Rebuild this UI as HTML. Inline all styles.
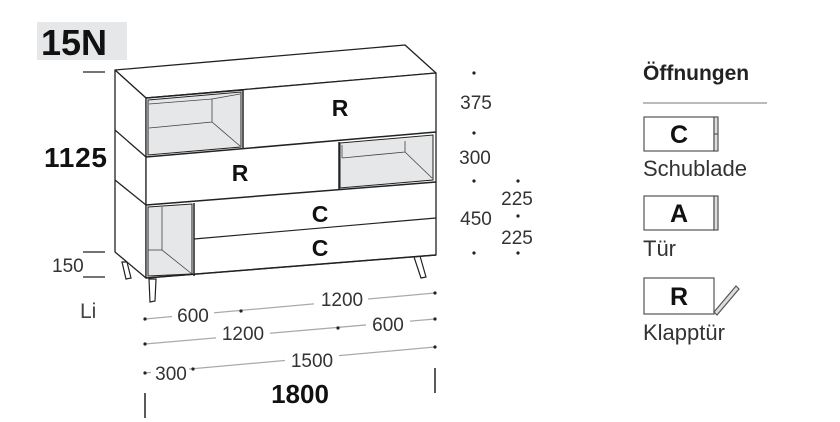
<!DOCTYPE html>
<html><head><meta charset="utf-8"><style>
html,body{margin:0;padding:0;background:#fff;}
svg{display:block;font-family:"Liberation Sans",sans-serif;}
</style></head><body>
<svg width="840" height="422" viewBox="0 0 840 422" xmlns="http://www.w3.org/2000/svg">
<rect x="37" y="22" width="90" height="38" fill="#e6e7e8"/>
<text x="41" y="55" font-size="36" font-weight="bold" fill="#111">15N</text>
<g stroke="#222" stroke-width="1.2">
<line x1="83" y1="72" x2="105" y2="72"/>
<line x1="83" y1="252" x2="105" y2="252"/>
<line x1="83" y1="277" x2="105" y2="277"/>
</g>
<text x="44" y="167" font-size="28" font-weight="bold" fill="#111" textLength="63">1125</text>
<text x="52" y="272" font-size="19" fill="#333">150</text>
<text x="80" y="318" font-size="21" fill="#444">Li</text>

<g fill="#fff" stroke="#222" stroke-width="1.2">
<polygon points="122,262 127,262 131,278 126,279"/>
<polygon points="149,279 156,279 155,301 150,302"/>
<polygon points="414,257 420,256 426,277 421,278"/>
</g>
<g stroke="#222" stroke-width="1.3" fill="#fff" stroke-linejoin="round">
<polygon points="115,70 405,45 436,73 146,98"/>
<polygon points="115,70 146,98 146,278 115,252"/>
<polygon points="146,98 436,73 436,255 146,278"/>
</g>
<g stroke="#222" stroke-width="1.3" fill="none">
<line x1="115" y1="130" x2="146" y2="157"/>
<line x1="115" y1="180" x2="146" y2="205"/>
</g>
<polygon points="148,100 241,92 241,147 148,155" fill="#e6e7e8" stroke="#222" stroke-width="1"/>
<polyline points="149,104 212,99 212,122 149,128" fill="none" stroke="#444" stroke-width="0.8"/>
<line x1="212" y1="122" x2="240" y2="146" stroke="#444" stroke-width="0.8"/>
<line x1="212" y1="99" x2="240" y2="94" stroke="#444" stroke-width="0.8"/>
<line x1="243" y1="90" x2="243" y2="148" stroke="#222" stroke-width="1.5"/>
<line x1="146" y1="157" x2="436" y2="132" stroke="#222" stroke-width="1.5"/>
<line x1="146" y1="98" x2="243" y2="90" stroke="#222" stroke-width="1.5"/>
<polygon points="340,143 433,135 433,180 340,188" fill="#e6e7e8" stroke="#222" stroke-width="1"/>
<polyline points="342,158 405,152 405,141" fill="none" stroke="#444" stroke-width="0.8"/>
<line x1="342" y1="158" x2="342" y2="145" stroke="#444" stroke-width="0.8"/>
<line x1="405" y1="152" x2="432" y2="178" stroke="#444" stroke-width="0.8"/>
<line x1="339" y1="142" x2="339" y2="189" stroke="#222" stroke-width="1.5"/>
<line x1="146" y1="205" x2="436" y2="182" stroke="#222" stroke-width="1.5"/>
<polygon points="148,207 192,204 192,274 148,276" fill="#e6e7e8" stroke="#222" stroke-width="1"/>
<polyline points="162,207 162,250 192,274" fill="none" stroke="#444" stroke-width="0.8"/>
<line x1="148" y1="250" x2="162" y2="250" stroke="#444" stroke-width="0.8"/>
<line x1="194" y1="203" x2="194" y2="276" stroke="#222" stroke-width="1.5"/>
<line x1="194" y1="239" x2="436" y2="218" stroke="#222" stroke-width="1.2"/>
<line x1="146" y1="278" x2="436" y2="255" stroke="#222" stroke-width="1.5"/>
<g font-size="23" font-weight="bold" fill="#111" text-anchor="middle">
<text x="340" y="116">R</text>
<text x="240" y="181">R</text>
<text x="320" y="222">C</text>
<text x="320" y="256">C</text>
</g>

<g fill="#222">
<circle cx="474" cy="73" r="1.6"/><circle cx="474" cy="133" r="1.6"/><circle cx="474" cy="181" r="1.6"/><circle cx="474" cy="253" r="1.6"/>
<circle cx="518" cy="181" r="1.6"/><circle cx="518" cy="216" r="1.6"/><circle cx="518" cy="253" r="1.6"/>
</g>
<g font-size="19" fill="#333" text-anchor="middle">
<text x="476" y="109">375</text>
<text x="475" y="164">300</text>
<text x="476" y="225">450</text>
<text x="517" y="205">225</text>
<text x="517" y="244">225</text>
</g>

<g stroke="#aaa" stroke-width="1.3">
<line x1="145" y1="319" x2="435" y2="293"/>
<line x1="145" y1="344" x2="435" y2="319"/>
<line x1="145" y1="373" x2="435" y2="347"/>
</g>
<g fill="#fff">
<rect x="172" y="305" width="42" height="20"/>
<rect x="314" y="288" width="54" height="20"/>
<rect x="216" y="322" width="54" height="20"/>
<rect x="366" y="312" width="44" height="20"/>
<rect x="151" y="362" width="38" height="20"/>
<rect x="285" y="348" width="54" height="20"/>
</g>
<g fill="#222">
<circle cx="145" cy="319" r="1.6"/><circle cx="241" cy="311" r="1.6"/><circle cx="435" cy="293" r="1.6"/>
<circle cx="145" cy="344" r="1.6"/><circle cx="338" cy="328" r="1.6"/><circle cx="435" cy="319" r="1.6"/>
<circle cx="145" cy="373" r="1.6"/><circle cx="193" cy="369" r="1.6"/><circle cx="435" cy="347" r="1.6"/>
</g>
<g font-size="19" fill="#333" text-anchor="middle">
<text x="193" y="322">600</text>
<text x="342" y="306">1200</text>
<text x="243" y="340">1200</text>
<text x="388" y="331">600</text>
<text x="171" y="380">300</text>
<text x="312" y="367">1500</text>
</g>
<g stroke="#222" stroke-width="1.5">
<line x1="145" y1="393" x2="145" y2="418"/>
<line x1="435" y1="368" x2="435" y2="393"/>
</g>
<text x="300" y="403" font-size="26" font-weight="bold" fill="#111" text-anchor="middle">1800</text>

<text x="643" y="80" font-size="21" font-weight="bold" fill="#222">Öffnungen</text>
<line x1="643" y1="103" x2="767" y2="103" stroke="#777" stroke-width="1"/>
<g stroke="#555" stroke-width="1.2" fill="#fff">
<rect x="644" y="117" width="70" height="34"/>
<rect x="714" y="117" width="4" height="34" fill="#ddd"/>
<line x1="714" y1="134" x2="718" y2="134"/>
<rect x="644" y="196" width="70" height="34"/>
<rect x="714" y="196" width="4" height="34" fill="#ddd"/>
<rect x="644" y="278" width="70" height="36"/>
<polygon points="714,312 736,286 739,289 717,315" fill="#ddd"/>
</g>
<g font-size="25" font-weight="bold" fill="#111" text-anchor="middle">
<text x="679" y="143">C</text>
<text x="679" y="222">A</text>
<text x="679" y="305">R</text>
</g>
<g font-size="22" fill="#333">
<text x="643" y="176">Schublade</text>
<text x="643" y="256">Tür</text>
<text x="643" y="340">Klapptür</text>
</g>
</svg>
</body></html>
